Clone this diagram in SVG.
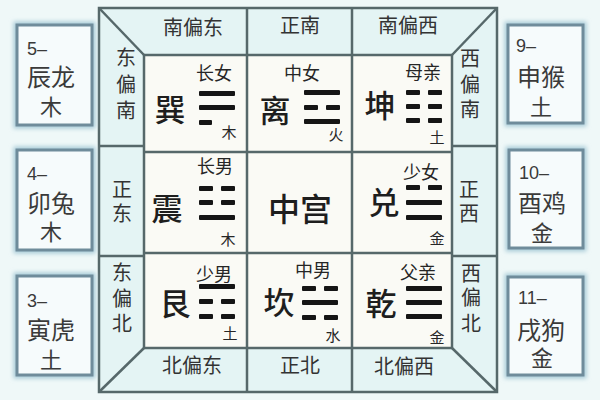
<svg xmlns="http://www.w3.org/2000/svg" xmlns:xlink="http://www.w3.org/1999/xlink" width="600" height="400" viewBox="0 0 600 400">
<defs>
<style>
text{font-family:"Liberation Sans","Noto Sans CJK SC","Noto Sans CJK JP",sans-serif;fill:#262626}
.big{font-size:31px;text-anchor:middle;fill:#1e1e1e;font-weight:500}
.rel{font-size:18px;text-anchor:middle}
.ele{font-size:15px;text-anchor:middle}
.dir{font-size:20px;text-anchor:middle;fill:#333}
.bx{font-size:24px;fill:#3a3a3a}
.num{font-size:18px;fill:#3a3a3a}
.bxc{font-size:22px;fill:#3a3a3a;text-anchor:middle}
.grid{stroke:#56686a;stroke-width:2.5;fill:none}
.box{fill:#f6fbfc;stroke:#6f8c9b;stroke-width:3}
.halo{fill:none;stroke:#a8cbd8;stroke-width:7}
.yao{fill:#151515}
</style>
<filter id="blur" x="-20%" y="-20%" width="140%" height="140%"><feGaussianBlur stdDeviation="2"/></filter>
<rect id="yang" class="yao" width="36" height="5" rx="1"/>
<g id="yin"><rect class="yao" width="14" height="5" rx="1"/><rect class="yao" x="22" width="14" height="5" rx="1"/></g>
</defs>
<rect width="600" height="400" fill="#eff8f8"/>

<g id="frame">
<rect x="99" y="8" width="398" height="384" fill="#e4f4f4"/>
<rect x="144" y="55" width="308" height="293" fill="#fafaf5"/>
</g>

<g id="connectors" class="grid">
<rect x="99" y="8" width="398" height="384"/>
<rect x="144" y="55" width="308" height="293"/>
<line x1="247" y1="8" x2="247" y2="392"/>
<line x1="352" y1="8" x2="352" y2="392"/>
<line x1="144" y1="152" x2="452" y2="152"/>
<line x1="144" y1="253" x2="452" y2="253"/>
<line x1="99" y1="146" x2="144" y2="146"/>
<line x1="99" y1="256" x2="144" y2="256"/>
<line x1="452" y1="146" x2="497" y2="146"/>
<line x1="452" y1="256" x2="497" y2="256"/>
<line x1="99" y1="8" x2="144" y2="55"/>
<line x1="497" y1="8" x2="452" y2="55"/>
<line x1="99" y1="392" x2="144" y2="348"/>
<line x1="497" y1="392" x2="452" y2="348"/>
</g>

<g id="directions">
<text class="dir" x="193" y="35">南偏东</text>
<text class="dir" x="300" y="33">正南</text>
<text class="dir" x="408" y="33">南偏西</text>
<text class="dir" x="192" y="373">北偏东</text>
<text class="dir" x="300" y="373">正北</text>
<text class="dir" x="404" y="374">北偏西</text>
<text class="dir" x="126" y="65">东</text>
<text class="dir" x="126" y="92">偏</text>
<text class="dir" x="126" y="118">南</text>
<text class="dir" x="122" y="197">正</text>
<text class="dir" x="122" y="221">东</text>
<text class="dir" x="122" y="280">东</text>
<text class="dir" x="122" y="306">偏</text>
<text class="dir" x="122" y="331">北</text>
<text class="dir" x="470" y="66">西</text>
<text class="dir" x="470" y="92">偏</text>
<text class="dir" x="470" y="117">南</text>
<text class="dir" x="469" y="197">正</text>
<text class="dir" x="469" y="221">西</text>
<text class="dir" x="471" y="281">西</text>
<text class="dir" x="471" y="305">偏</text>
<text class="dir" x="471" y="331">北</text>
</g>

<g id="xun">
<text class="big" x="170" y="121">巽</text>
<text class="rel" x="214" y="80">长女</text>
<use xlink:href="#yang" x="199" y="91"/>
<use xlink:href="#yang" x="199" y="105"/>
<rect class="yao" x="199" y="120" width="13" height="5" rx="1"/>
<text class="ele" x="229" y="138">木</text>
</g>

<g id="li">
<text class="big" x="275" y="122">离</text>
<text class="rel" x="302" y="80">中女</text>
<use xlink:href="#yang" x="304" y="90"/>
<use xlink:href="#yin" x="304" y="105"/>
<use xlink:href="#yang" x="304" y="119"/>
<text class="ele" x="336" y="140">火</text>
</g>

<g id="kun">
<text class="big" x="380" y="117">坤</text>
<text class="rel" x="423" y="79">母亲</text>
<use xlink:href="#yin" x="406" y="90"/>
<use xlink:href="#yin" x="406" y="104"/>
<use xlink:href="#yin" x="406" y="118"/>
<text class="ele" x="437" y="143">土</text>
</g>

<g id="zhen">
<text class="big" x="167" y="220">震</text>
<text class="rel" x="215" y="173">长男</text>
<use xlink:href="#yin" x="199" y="186"/>
<use xlink:href="#yin" x="199" y="200"/>
<use xlink:href="#yang" x="199" y="215"/>
<text class="ele" x="228" y="245">木</text>
</g>

<g id="zhonggong">
<text class="big" x="300" y="221" style="font-size:32px">中宫</text>
</g>

<g id="dui">
<text class="big" x="384" y="214">兑</text>
<text class="rel" x="421" y="179">少女</text>
<use xlink:href="#yin" x="406" y="185"/>
<use xlink:href="#yang" x="406" y="200"/>
<use xlink:href="#yang" x="406" y="215"/>
<text class="ele" x="437" y="244">金</text>
</g>

<g id="gen">
<text class="big" x="175" y="315">艮</text>
<text class="rel" x="214" y="281">少男</text>
<use xlink:href="#yang" x="199" y="284"/>
<use xlink:href="#yin" x="199" y="299"/>
<use xlink:href="#yin" x="199" y="314"/>
<text class="ele" x="230" y="339">土</text>
</g>

<g id="kan">
<text class="big" x="279" y="314">坎</text>
<text class="rel" x="313" y="277">中男</text>
<use xlink:href="#yin" x="302" y="286"/>
<use xlink:href="#yang" x="302" y="300"/>
<use xlink:href="#yin" x="302" y="315"/>
<text class="ele" x="333" y="341">水</text>
</g>

<g id="qian">
<text class="big" x="381" y="315">乾</text>
<text class="rel" x="418" y="279">父亲</text>
<use xlink:href="#yang" x="406" y="286"/>
<use xlink:href="#yang" x="406" y="300"/>
<use xlink:href="#yang" x="406" y="314"/>
<text class="ele" x="437" y="343">金</text>
</g>

<g id="box-chen">
<rect class="halo" x="17" y="25" width="75" height="100" filter="url(#blur)"/>
<rect class="box" x="17" y="25" width="75" height="100"/>
<text class="num" x="27" y="55">5–</text>
<text class="bx" x="27" y="86">辰龙</text>
<text class="bxc" x="51" y="115">木</text>
</g>
<g id="box-mao">
<rect class="halo" x="17" y="150" width="75" height="100" filter="url(#blur)"/>
<rect class="box" x="17" y="150" width="75" height="100"/>
<text class="num" x="27" y="180">4–</text>
<text class="bx" x="27" y="212">卯兔</text>
<text class="bxc" x="51" y="240">木</text>
</g>
<g id="box-yin">
<rect class="halo" x="17" y="276" width="75" height="99" filter="url(#blur)"/>
<rect class="box" x="17" y="276" width="75" height="99"/>
<text class="num" x="27" y="307">3–</text>
<text class="bx" x="27" y="339">寅虎</text>
<text class="bxc" x="51" y="368">土</text>
</g>
<g id="box-shen">
<rect class="halo" x="508" y="25" width="75" height="98" filter="url(#blur)"/>
<rect class="box" x="508" y="25" width="75" height="98"/>
<text class="num" x="516" y="52">9–</text>
<text class="bx" x="517" y="86">申猴</text>
<text class="bxc" x="541" y="115">土</text>
</g>
<g id="box-you">
<rect class="halo" x="509" y="150" width="74" height="98" filter="url(#blur)"/>
<rect class="box" x="509" y="150" width="74" height="98"/>
<text class="num" x="519" y="179">10–</text>
<text class="bx" x="518" y="212">酉鸡</text>
<text class="bxc" x="542" y="241">金</text>
</g>
<g id="box-xu">
<rect class="halo" x="508" y="277" width="75" height="98" filter="url(#blur)"/>
<rect class="box" x="508" y="277" width="75" height="98"/>
<text class="num" x="518" y="304">11–</text>
<text class="bx" x="517" y="339">戌狗</text>
<text class="bxc" x="542" y="366">金</text>
</g>
</svg>
